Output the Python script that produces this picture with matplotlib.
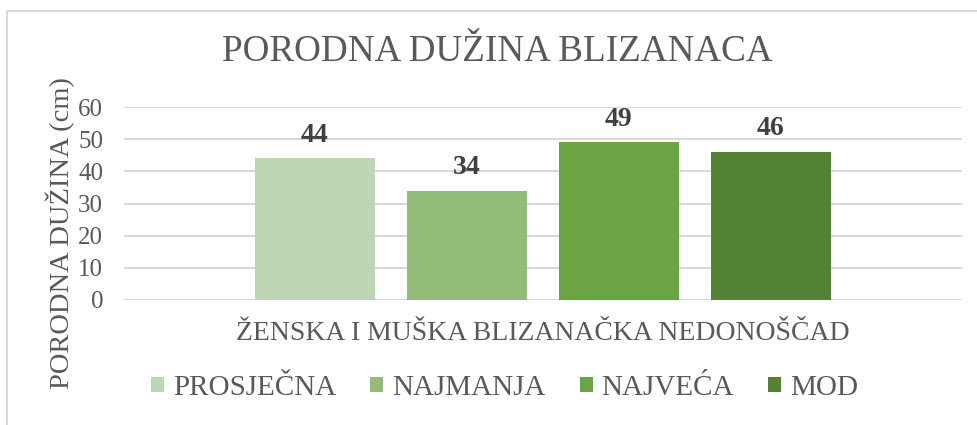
import matplotlib
matplotlib.use("Agg")
import matplotlib.pyplot as plt
from matplotlib.patches import Rectangle, Patch

categories = ["PROSJEČNA", "NAJMANJA", "NAJVEĆA", "MOD"]
values = [44, 34, 49, 46]
colors = ["#BDD6B3", "#93BC7B", "#6BA443", "#548235"]
yticks = [0, 10, 20, 30, 40, 50, 60]
title = "PORODNA DUŽINA BLIZANACA"
xlabel = "ŽENSKA I MUŠKA BLIZANAČKA NEDONOŠČAD"
ylabel = "PORODNA DUŽINA (cm)"

plt.rcParams['font.family'] = ['Liberation Serif', 'DejaVu Serif']
W, H = 978, 425
fig = plt.figure(figsize=(W / 100, H / 100), dpi=100)

# outer chart border
fig.patches.append(Rectangle((7 / W, -0.05), 1.1, 1 - 11 / H + 0.05, transform=fig.transFigure,
                             fill=False, edgecolor="#D9D9D9", linewidth=1.5))

left, right, top, bottom = 124, 962, 107, 300
ax = fig.add_axes([left / W, 1 - bottom / H, (right - left) / W, (bottom - top) / H])

pitch = 152.0
bw = 120 / pitch
xs = list(range(len(values)))
bars = ax.bar(xs, values, width=bw, color=colors, zorder=3)
half = (right - left) / 2 / pitch
ax.set_xlim(1.5 - half, 1.5 + half)
ax.set_ylim(0, 60)
ax.set_yticks(yticks)
ax.set_yticklabels([str(t) for t in yticks], fontsize=18, color="#595959")
ax.tick_params(axis='y', length=0, pad=15)
ax.set_xticks([])
ax.grid(axis='y', color="#D9D9D9", linewidth=1.5, zorder=0)
for s in ax.spines.values():
    s.set_visible(False)

for x, v in zip(xs, values):
    ax.annotate(str(v), (x, v), xytext=(0, 12), textcoords="offset points",
                ha="center", va="baseline", fontsize=20, fontweight="bold", color="#404040")

fig.text(497 / W, 1 - 52 / H, title, ha="center", va="center", fontsize=26.7, color="#595959")
fig.text(543 / W, 1 - 333 / H, xlabel, ha="center", va="center", fontsize=20, color="#595959")
fig.text(60 / W, 1 - 233 / H, ylabel, ha="center", va="center", rotation=90, fontsize=20.5, color="#595959")

handles = [Patch(facecolor=c, edgecolor="none") for c in colors]
fig.legend(handles, categories, loc="center", bbox_to_anchor=(504.5 / W, 1 - 388 / H), ncol=4,
           frameon=False, fontsize=21, labelcolor="#595959", handlelength=0.45, handleheight=0.45,
           handletextpad=0.3, columnspacing=1.17)

fig.savefig("out.png", dpi=100)
